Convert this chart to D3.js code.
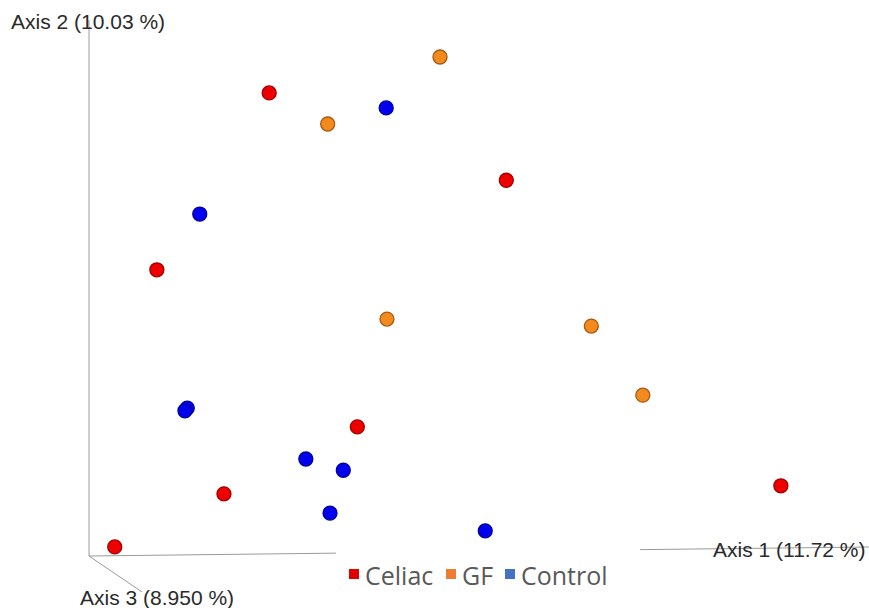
<!DOCTYPE html>
<html>
<head>
<meta charset="utf-8">
<script src="https://cdn.jsdelivr.net/npm/d3@7"></script>
<style>
  body { margin: 0; background: #fff; }
</style>
</head>
<body>
<svg id="pcoa" width="869" height="608"></svg>
<script>
// group names + colours
const groups = ["Celiac", "GF", "Control"]
const groupFill = ["#ee0000", "#f28a1e", "#0000ee"]
const groupStroke = ["#a00000", "#a65a12", "#00009a"]

// axis titles
const axisLabels = ["Axis 1 (11.72 %)", "Axis 2 (10.03 %)", "Axis 3 (8.950 %)"]

// projected coordinates (axis1, axis2) per sample
const celiacX = [23.1, 53.5, 8.7, 34.4, 17.3, 88.7, 3.3]
const celiacY = [86.4, 70.1, 53.4, 24.1, 11.6, 13.1, 1.7]
const gfX = [45.0, 30.6, 38.2, 64.4, 71.0]
const gfY = [93.1, 80.6, 44.2, 42.9, 30.0]
const controlX = [38.1, 14.2, 12.6, 12.3, 27.8, 32.6, 30.9, 50.8]
const controlY = [83.6, 63.8, 27.6, 27.1, 18.1, 16.0, 8.0, 4.7]

function DrawPcoa() {
    let svg = d3.select("#pcoa")
    let origin_x = 89
    let origin_y = 556

    let xscale = d3.scaleLinear().domain([0, 100]).range([origin_x, 869])
    let yscale = d3.scaleLinear().domain([0, 100]).range([origin_y, 20])

    //坐标轴
    svg.append("line")
        .attr("x1", origin_x).attr("y1", origin_y)
        .attr("x2", origin_x).attr("y2", 20)
        .style("stroke", "#9a9a9a").style("stroke-width", 1)
    svg.append("line")
        .attr("x1", origin_x).attr("y1", origin_y)
        .attr("x2", 869).attr("y2", 547)
        .style("stroke", "#9a9a9a").style("stroke-width", 1)
    svg.append("line")
        .attr("x1", origin_x).attr("y1", origin_y)
        .attr("x2", 142).attr("y2", 592)
        .style("stroke", "#9a9a9a").style("stroke-width", 1)

    let seriesX = [celiacX, gfX, controlX]
    let seriesY = [celiacY, gfY, controlY]
    let points = []
    for (let g = 0; g < groups.length; g++) {
        for (let i = 0; i < seriesX[g].length; i++) {
            points.push({ g: g, x: seriesX[g][i], y: seriesY[g][i] })
        }
    }

    svg.selectAll(".sample")
        .data(points)
        .enter()
        .append("circle")
        .attr("class", "sample")
        .attr("cx", d => xscale(d.x))
        .attr("cy", d => yscale(d.y))
        .attr("r", 7)
        .style("fill", d => groupFill[d.g])
        .style("stroke", d => groupStroke[d.g])
        .style("stroke-width", 1.3)

    // axis labels
    let labelPos = [[713, 557], [11, 29], [80, 605]]
    svg.selectAll(".axislabel")
        .data(axisLabels)
        .enter()
        .append("text")
        .attr("class", "axislabel")
        .text(d => d)
        .attr("x", (d, i) => labelPos[i][0])
        .attr("y", (d, i) => labelPos[i][1])
        .style("fill", "#2a2a2a")
        .style("font-size", "21px")
        .style("font-family", "'Liberation Sans', Arial, sans-serif")

    // legend box (white, hides the axis line)
    svg.append("rect")
        .attr("x", 336).attr("y", 540)
        .attr("width", 304).attr("height", 68)
        .style("fill", "#fff")

    let legendX = [349, 446, 505]
    let legend = svg.selectAll(".legend")
        .data(groups)
        .enter()
        .append("g")
        .attr("class", "legend")
        .attr("transform", (d, i) => "translate(" + legendX[i] + ",0)")
    legend.append("rect")
        .attr("x", 0).attr("y", 569)
        .attr("width", 10).attr("height", 10)
        .style("fill", (d, i) => i == 2 ? "#4472c4" : (i == 1 ? "#ed7d31" : "#e00000"))
    legend.append("text")
        .text(d => d)
        .attr("x", 16).attr("y", 585)
        .style("fill", "#595959")
        .style("font-size", "25px")
        .style("font-family", "'Open Sans', sans-serif")
}

DrawPcoa()
</script>
</body>
</html>
